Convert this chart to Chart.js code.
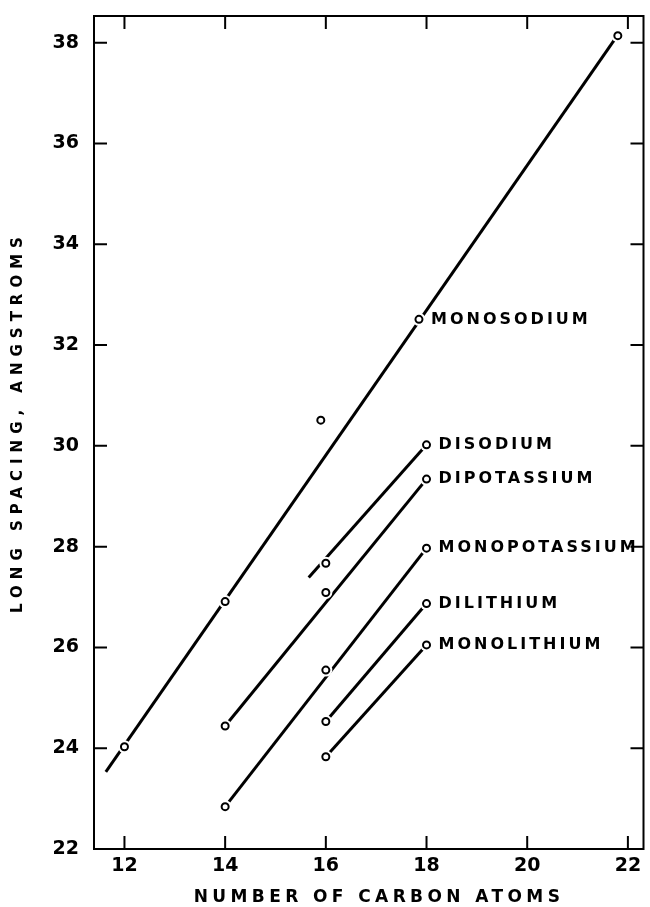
<!DOCTYPE html>
<html>
<head>
<meta charset="utf-8">
<script src="https://cdn.jsdelivr.net/npm/chart.js@4"></script>
<style>
  body { margin: 0; background: #fff; }
  canvas { display: block; }
</style>
</head>
<body>
<canvas id="myChart" width="650" height="907"></canvas>
<script>
// series names (label drawn next to the C18 point)
const seriesNames = ['MONOSODIUM', 'DISODIUM', 'DIPOTASSIUM', 'MONOPOTASSIUM', 'DILITHIUM', 'MONOLITHIUM'];

// measured points: carbon atoms / long spacing (angstroms)
const monosodiumC = [12, 14, 15.9, 17.85, 21.8];
const monosodiumA = [24.03, 26.91, 30.51, 32.51, 38.14];
const disodiumC = [16, 18];
const disodiumA = [27.67, 30.02];
const dipotassiumC = [14, 16, 18];
const dipotassiumA = [24.44, 27.09, 29.34];
const monopotassiumC = [14, 16, 18];
const monopotassiumA = [22.84, 25.55, 27.97];
const dilithiumC = [16, 18];
const dilithiumA = [24.53, 26.87];
const monolithiumC = [16, 18];
const monolithiumA = [23.83, 26.05];

// drawn straight lines (start and end of each)
const lineStart = [[11.63, 23.53], [15.66, 27.39], [14, 24.44], [14, 22.84], [16, 24.53], [16, 23.83]];
const lineEnd = [[21.79, 38.14], [18, 30.02], [18, 29.34], [18, 27.97], [18, 26.87], [18, 26.05]];

// which point carries the name label
const labelPoint = [3, 1, 2, 2, 1, 1];

const xTicks = [12, 14, 16, 18, 20, 22];
const yTicks = [22, 24, 26, 28, 30, 32, 34, 36, 38];

const xTitle = 'NUMBER OF CARBON ATOMS';
const yTitle = 'LONG SPACING, ANGSTROMS';

const pointSets = [
    [monosodiumC, monosodiumA],
    [disodiumC, disodiumA],
    [dipotassiumC, dipotassiumA],
    [monopotassiumC, monopotassiumA],
    [dilithiumC, dilithiumA],
    [monolithiumC, monolithiumA]
];

const datasets = [];
pointSets.forEach(([cs, as], i) => {
    const pts = cs.map((c, k) => ({x: c, y: as[k]}));
    datasets.push({
        label: seriesNames[i] + ' line',
        data: [{x: lineStart[i][0], y: lineStart[i][1]}, {x: lineEnd[i][0], y: lineEnd[i][1]}],
        showLine: true,
        borderColor: '#000',
        borderWidth: 3,
        pointRadius: 0,
        order: 3
    });
    // white gap round each circle, like the pen lifts in the drawing
    datasets.push({
        label: seriesNames[i] + ' gap',
        data: pts,
        showLine: false,
        pointRadius: 6.5,
        pointBorderWidth: 0,
        pointBackgroundColor: '#fff',
        pointBorderColor: '#fff',
        order: 2
    });
    datasets.push({
        label: seriesNames[i],
        data: pts,
        showLine: false,
        pointRadius: 3.5,
        pointBorderWidth: 2,
        pointBorderColor: '#000',
        pointBackgroundColor: '#fff',
        order: 1
    });
});

// frame, inward ticks, axis titles and series names
const decorations = {
    id: 'decorations',
    afterDraw(chart) {
        const ctx = chart.ctx;
        const a = chart.chartArea;
        const xs = chart.scales.x, ys = chart.scales.y;
        ctx.save();
        ctx.strokeStyle = '#000';
        ctx.lineWidth = 2;
        ctx.strokeRect(a.left, a.top, a.right - a.left, a.bottom - a.top);
        ctx.beginPath();
        xTicks.forEach(v => {
            const px = xs.getPixelForValue(v);
            ctx.moveTo(px, a.bottom); ctx.lineTo(px, a.bottom - 13);
            ctx.moveTo(px, a.top); ctx.lineTo(px, a.top + 13);
        });
        yTicks.forEach(v => {
            const py = ys.getPixelForValue(v);
            ctx.moveTo(a.left, py); ctx.lineTo(a.left + 13, py);
            ctx.moveTo(a.right, py); ctx.lineTo(a.right - 13, py);
        });
        ctx.stroke();

        ctx.fillStyle = '#000';
        ctx.textBaseline = 'middle';

        // series names
        ctx.font = 'bold 16px "DejaVu Sans"';
        ctx.letterSpacing = '3px';
        ctx.textAlign = 'left';
        pointSets.forEach(([cs, as], i) => {
            const k = labelPoint[i];
            ctx.fillText(seriesNames[i], xs.getPixelForValue(cs[k]) + 12, ys.getPixelForValue(as[k]));
        });

        // x title
        ctx.font = 'bold 17px "DejaVu Sans"';
        ctx.letterSpacing = '4.4px';
        ctx.textAlign = 'center';
        ctx.fillText(xTitle, 379, 898);

        // y title
        ctx.font = 'bold 15px "DejaVu Sans"';
        ctx.letterSpacing = '6px';
        ctx.translate(18, 422);
        ctx.rotate(-Math.PI / 2);
        ctx.fillText(yTitle, 0, 0);
        ctx.restore();
    }
};

const config = {
    type: 'scatter',
    data: { datasets: datasets },
    options: {
        responsive: false,
        animation: false,
        layout: { padding: { top: 16, right: 6, left: 0, bottom: 0 } },
        plugins: {
            legend: { display: false },
            tooltip: { enabled: false }
        },
        scales: {
            x: {
                type: 'linear',
                min: 11.395,
                max: 22.31,
                grid: { display: false, drawTicks: false },
                border: { display: false },
                afterBuildTicks: s => { s.ticks = xTicks.map(v => ({value: v})); },
                afterFit: s => { s.height = 58; s.paddingLeft = 0; s.paddingRight = 0; },
                ticks: {
                    color: '#000',
                    padding: 6,
                    maxRotation: 0,
                    font: { family: 'DejaVu Sans', weight: 'bold', size: 19 }
                }
            },
            y: {
                type: 'linear',
                min: 22,
                max: 38.53,
                grid: { display: false, drawTicks: false },
                border: { display: false },
                afterBuildTicks: s => { s.ticks = yTicks.map(v => ({value: v})); },
                afterFit: s => { s.width = 94; s.paddingTop = 0; s.paddingBottom = 0; },
                ticks: {
                    color: '#000',
                    padding: 15,
                    font: { family: 'DejaVu Sans', weight: 'bold', size: 19 }
                }
            }
        }
    },
    plugins: [decorations]
};

const ctx = document.getElementById('myChart').getContext('2d');
new Chart(ctx, config);
</script>
</body>
</html>
